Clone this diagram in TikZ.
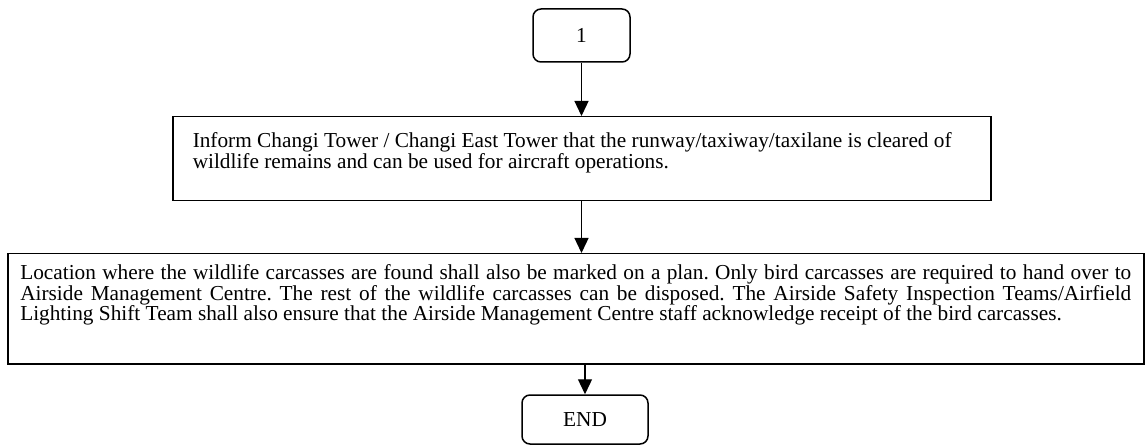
\documentclass[tikz,border=0pt]{standalone}
\usepackage{fontspec}
\setmainfont{Liberation Serif}
\usetikzlibrary{arrows.meta}
\hyphenpenalty=10000
\exhyphenpenalty=10000
\frenchspacing
\begin{document}
\begin{tikzpicture}[x=1pt,y=-1pt,
  txt/.style={font=\fontsize{21.3}{19.3}\selectfont},
  box/.style={txt, draw, line width=1.5pt, inner ysep=0pt, anchor=north west},
  term/.style={txt, draw, line width=1.5pt, rounded corners=8pt, inner sep=0pt},
  arr/.style={line width=1.3pt, -{Triangle[length=15pt,width=14pt]}}]
\useasboundingbox (0,0) rectangle (1145,446);
\node[term, minimum width=97pt, minimum height=53pt] (start) at (581.5,35.5) {1};
\node[box, inner xsep=0pt, text height=31pt, text depth=53pt] (b2) at (172,116)
  {\makebox[818pt][l]{\hspace*{20pt}\parbox[t]{790pt}{\raggedright
   Inform Changi Tower / Changi East Tower that the runway/taxiway/taxilane is cleared of\\
   wildlife remains and can be used for aircraft operations.}}};
\node[box, inner xsep=12.5pt, text width=1111pt, align=justify, text height=26pt, text depth=84pt] (b3) at (7,253)
  {Location where the wildlife carcasses are found shall also be marked on a plan. Only bird carcasses are required to hand over to\linebreak
   Airside Management Centre. The rest of the wildlife carcasses can be disposed. The Airside Safety Inspection Teams/Airfield\linebreak
   Lighting Shift Team shall also ensure that the Airside Management Centre staff acknowledge receipt of the bird carcasses.};
\node[term, minimum width=126pt, minimum height=49pt] (end) at (585,419.5) {END};
\draw[arr] (start.south) -- (start.south |- b2.north);
\draw[arr] (start.south |- b2.south) -- (start.south |- b3.north);
\draw[arr] (end.north |- b3.south) -- (end.north);
\end{tikzpicture}
\end{document}
